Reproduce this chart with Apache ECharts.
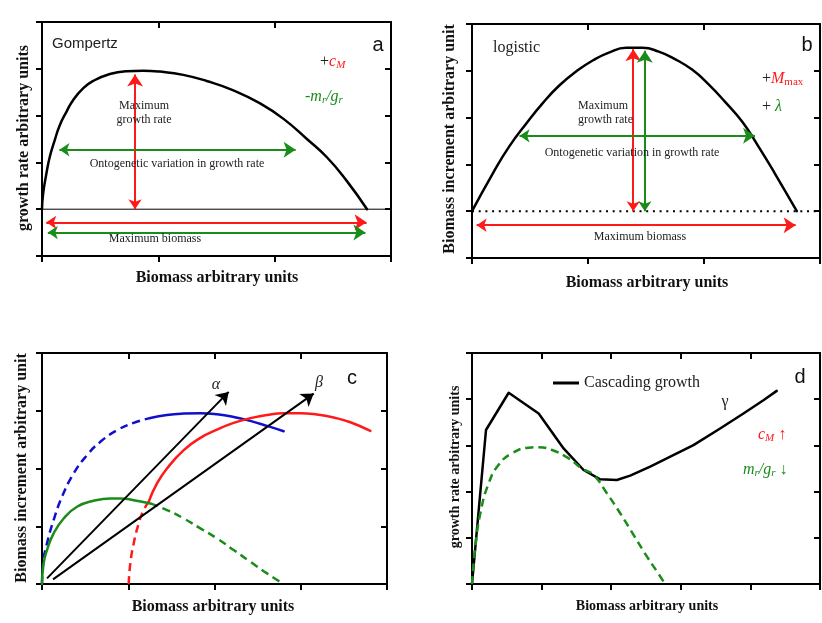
<!DOCTYPE html>
<html><head><meta charset="utf-8">
<script src="https://cdn.jsdelivr.net/npm/echarts@6/dist/echarts.min.js"></script>
<style>html,body{margin:0;padding:0;background:#fff}#c{width:822px;height:623px}</style>
</head><body><div id="c"></div><script>
// ---------- DATA ----------
// Panel a: Gompertz growth-rate curve [biomass, growth rate]
const gompertzCurve = [[0,0],[0.009,0.32],[0.037,0.75],[0.066,1.11],[0.109,1.47],[0.152,1.79],[0.21,2.08],[0.267,2.33],[0.353,2.58],[0.44,2.74],[0.583,2.89],[0.727,2.95],[0.87,2.96],[1.013,2.94],[1.214,2.87],[1.415,2.74],[1.645,2.54],[1.875,2.26],[2.076,1.93],[2.277,1.50],[2.449,1.11],[2.621,0.60],[2.794,0]];
const baselineA = [[0,0],[3,0]];
const arrowsA = [[[0.80,0],[0.80,2.88]],[[0.15,1.27],[2.18,1.27]],[[0.037,-0.28],[2.79,-0.28]],[[0.05,-0.50],[2.78,-0.50]]];
// Panel b: logistic increment curve
const logisticCurve = [[0,0],[0.18,0.81],[0.32,1.38],[0.47,1.88],[0.61,2.31],[0.75,2.68],[0.90,2.99],[1.04,3.22],[1.18,3.39],[1.33,3.49],[1.47,3.49],[1.61,3.41],[1.75,3.25],[1.90,3.02],[2.04,2.71],[2.18,2.34],[2.33,1.91],[2.47,1.38],[2.61,0.81],[2.80,0]];
const baselineB = [[0,0],[3,0]];
const arrowsB = [[[1.39,0],[1.39,3.46]],[[1.49,0],[1.49,3.43]],[[0.41,1.61],[2.44,1.61]],[[0.04,-0.30],[2.79,-0.30]]];
// Panel c: three increment curves, dashed/solid parts
const blueDashed = [[0,0],[0.012,0.357],[0.058,0.703],[0.135,1.107],[0.232,1.51],[0.367,1.914],[0.522,2.231],[0.676,2.461],[0.87,2.663],[1.063,2.79],[1.256,2.876]];
const blueSolid = [[1.256,2.876],[1.449,2.928],[1.643,2.951],[1.836,2.957],[2.029,2.939],[2.222,2.893],[2.415,2.824],[2.609,2.738],[2.802,2.646]];
const redDashed = [[1.005,0],[1.024,0.357],[1.063,0.703],[1.121,1.049],[1.179,1.28],[1.237,1.424]];
const redSolid = [[1.237,1.424],[1.333,1.741],[1.449,2.0],[1.643,2.317],[1.836,2.53],[2.029,2.674],[2.222,2.79],[2.415,2.87],[2.609,2.928],[2.802,2.957],[2.995,2.957],[3.188,2.934],[3.382,2.882],[3.575,2.801],[3.807,2.651]];
const greenSolid = [[0,0],[0.019,0.357],[0.058,0.588],[0.135,0.876],[0.251,1.135],[0.406,1.337],[0.599,1.441],[0.792,1.481],[0.908,1.481],[1.063,1.452],[1.256,1.395]];
const greenDashed = [[1.256,1.395],[1.449,1.28],[1.643,1.135],[1.836,0.963],[2.029,0.79],[2.222,0.588],[2.415,0.386],[2.609,0.184],[2.802,0]];
const arrowsC = [[[0.058,0.098],[2.164,3.326]],[[0.128,0.081],[3.15,3.297]]];
// Panel d: cascading growth polyline and dashed curve
const cascading = [[0,0],[0.201,3.333],[0.527,4.14],[0.958,3.69],[1.316,2.935],[1.603,2.468],[1.842,2.266],[2.081,2.252],[2.273,2.345],[2.56,2.54],[2.943,2.827],[3.182,3.007],[3.565,3.367],[3.9,3.691],[4.187,3.978],[4.378,4.18]];
const dashedD = [[0,0],[0.048,0.81],[0.12,1.53],[0.24,2.18],[0.383,2.58],[0.575,2.83],[0.814,2.95],[0.958,2.96],[1.149,2.9],[1.389,2.72],[1.58,2.5],[1.746,2.36],[1.938,1.964],[2.129,1.532],[2.321,1.065],[2.512,0.597],[2.656,0.273],[2.775,0]];

// ---------- STYLE / LAYOUT ----------
const RED = '#ff1a1a', GREEN = '#1a8c1a', BLUE = '#1010cc', INK = '#222';
const SERIF = '"Liberation Serif", "DejaVu Serif", serif';
const SANS = '"Liberation Sans", Arial, sans-serif';
const DASH = [8,5], DOTS = [2,4.7];
const arrowColorsA = [RED, GREEN, RED, GREEN];
const arrowColorsB = [RED, GREEN, GREEN, RED];
const grids = [
  {left:42, top:22, width:349, height:234},
  {left:472, top:24, width:348, height:234},
  {left:42, top:353, width:345, height:231},
  {left:472, top:353, width:348, height:231}
];
const ranges = [
  {x:[0,3,1], y:[-1,4,1]},
  {x:[0,3,1], y:[-1,4,1]},
  {x:[0,4,1], y:[0,4,1]},
  {x:[0,5,1], y:[0,5,1]}
];
const xAxes = [], yAxes = [];
ranges.forEach((r,i)=>{
  const base = (inside)=>({
    gridIndex:i, axisLabel:{show:false}, splitLine:{show:false},
    axisLine:{show:true, onZero:false, lineStyle:{color:'#000', width:2}},
    axisTick:{show:true, inside:inside, length:6, lineStyle:{color:'#000', width:2}}
  });
  xAxes.push(Object.assign(base(false), {type:'value', position:'bottom', min:r.x[0], max:r.x[1], interval:r.x[2]}));
  xAxes.push(Object.assign(base(true), {type:'value', position:'top', min:r.x[0], max:r.x[1], interval:r.x[2]}));
  yAxes.push(Object.assign(base(false), {type:'value', position:'left', min:r.y[0], max:r.y[1], interval:r.y[2]}));
  yAxes.push(Object.assign(base(true), {type:'value', position:'right', min:r.y[0], max:r.y[1], interval:r.y[2]}));
});
function curve(p, data, color, width, type, smooth, name){
  const solid = type === 'solid';
  return {type:'line', name:name, xAxisIndex:2*p, yAxisIndex:2*p, data:data, showSymbol:false, symbol:'none',
    smooth:smooth, silent:true, z:3, itemStyle:{color:color},
    lineStyle:{color:color, width:width, type:type, cap:solid?'round':'butt', join:'round'}};
}
function arrows(p, list, colors, symbols, width){
  return {type:'lines', coordinateSystem:'cartesian2d', xAxisIndex:2*p, yAxisIndex:2*p, silent:true, z:4,
    symbol:symbols, symbolSize:[10,12],
    data:list.map((c,i)=>({coords:c, lineStyle:{color:colors[i], width:width, opacity:1}}))};
}
const series = [
  curve(0, gompertzCurve, '#000', 2.5, 'solid', 0.5),
  curve(0, baselineA, '#000', 1, 'solid', false),
  arrows(0, arrowsA, arrowColorsA, ['arrow','arrow'], 2),
  curve(1, logisticCurve, '#000', 2.5, 'solid', 0.5),
  curve(1, baselineB, '#000', 2, DOTS, false),
  arrows(1, arrowsB, arrowColorsB, ['arrow','arrow'], 2),
  curve(2, blueDashed, BLUE, 2.5, DASH, 0.5),
  curve(2, blueSolid, BLUE, 2.5, 'solid', 0.5),
  curve(2, redDashed, RED, 2.5, DASH, 0.5),
  curve(2, redSolid, RED, 2.5, 'solid', 0.5),
  curve(2, greenSolid, GREEN, 2.5, 'solid', 0.5),
  curve(2, greenDashed, GREEN, 2.5, DASH, 0.5),
  arrows(2, arrowsC, ['#000','#000'], ['none','arrow'], 2),
  curve(3, cascading, '#000', 2.5, 'solid', false, 'Cascading growth'),
  curve(3, dashedD, GREEN, 2.5, DASH, 0.5)
];

function T(x, y, text, font, opt){
  opt = opt || {};
  return {type:'text', x:x, y:y, rotation:opt.rot||0, z:10, silent:true,
    style:Object.assign({text:text, font:font, fill:opt.fill||INK, align:opt.align||'center', verticalAlign:'middle', lineHeight:opt.lh}, opt.style||{})};
}
const titleFont = 'bold 16px ' + SERIF;
const noteFont = '12px ' + SERIF;
const symFont = 'italic 16px ' + SERIF;
const rich = {
  k:{fill:INK, color:INK, font:'16px '+SERIF},
  r:{fill:RED, color:RED, font:'italic 16px '+SERIF},
  rs:{fill:RED, color:RED, font:'italic 11px '+SERIF, padding:[7,0,0,0]},
  rn:{fill:RED, color:RED, font:'11px '+SERIF, padding:[7,0,0,0]},
  g:{fill:GREEN, color:GREEN, font:'italic 16px '+SERIF},
  gs:{fill:GREEN, color:GREEN, font:'italic 11px '+SERIF, padding:[7,0,0,0]},
  ga:{fill:GREEN, color:GREEN, font:'16px '+SERIF},
  ra:{fill:RED, color:RED, font:'16px '+SERIF}
};
const R = (x,y,t)=>({type:'text', x:x, y:y, z:10, silent:true, style:{text:t, rich:rich, align:'left', verticalAlign:'middle', font:'16px '+SERIF}});
const graphics = [
  // panel a
  T(24, 138, 'growth rate arbitrary units', titleFont, {rot:Math.PI/2, fill:'#111'}),
  T(217, 278, 'Biomass arbitrary units', titleFont, {fill:'#111'}),
  T(52, 44, 'Gompertz', '15px '+SANS, {align:'left'}),
  T(378, 45, 'a', '20px '+SANS, {fill:'#111'}),
  R(320, 62, '{k|+}{r|c}{rs|M}'),
  R(305, 97, '{g|-m}{gs|r}{g|/g}{gs|r}'),
  T(144, 113, 'Maximum\ngrowth rate', noteFont, {lh:14}),
  T(177, 164, 'Ontogenetic variation in growth rate', noteFont),
  T(155, 239, 'Maximum biomass', noteFont),
  // panel b
  T(450, 139, 'Biomass increment arbitrary unit', titleFont, {rot:Math.PI/2, fill:'#111'}),
  T(647, 283, 'Biomass arbitrary units', titleFont, {fill:'#111'}),
  T(493, 48, 'logistic', '16px '+SERIF, {align:'left'}),
  T(807, 45, 'b', '20px '+SANS, {fill:'#111'}),
  R(762, 79, '{k|+}{r|M}{rn|max}'),
  R(762, 107, '{k|+ }{g|λ}'),
  T(578, 113, 'Maximum\ngrowth rate', noteFont, {lh:14, align:'left'}),
  T(632, 153, 'Ontogenetic variation in growth rate', noteFont),
  T(640, 237, 'Maximum biomass', noteFont),
  // panel c
  T(22, 468, 'Biomass increment arbitrary unit', titleFont, {rot:Math.PI/2, fill:'#111'}),
  T(213, 607, 'Biomass arbitrary units', titleFont, {fill:'#111'}),
  T(216, 385, 'α', symFont),
  T(319, 383, 'β', symFont),
  T(352, 378, 'c', '20px '+SANS, {fill:'#111'}),
  // panel d
  T(455, 467, 'growth rate arbitrary units', 'bold 14px '+SERIF, {rot:Math.PI/2, fill:'#111'}),
  T(647, 606, 'Biomass arbitrary units', 'bold 14px '+SERIF, {fill:'#111'}),
  T(725, 402, 'γ', '16px '+SERIF),
  T(800, 377, 'd', '20px '+SANS, {fill:'#111'}),
  R(758, 435, '{r|c}{rs|M}{ra| ↑}'),
  R(743, 470, '{g|m}{gs|r}{g|/g}{gs|r}{ga| ↓}')
];

const chart = echarts.init(document.getElementById('c'), null, {renderer:'canvas'});
chart.setOption({
  animation:false,
  backgroundColor:'#fff',
  grid:grids,
  xAxis:xAxes,
  yAxis:yAxes,
  legend:{data:['Cascading growth'], left:548, top:370, itemWidth:26, itemHeight:3, icon:'rect', itemGap:8,
    textStyle:{fontFamily:SERIF, fontSize:16, color:INK}, selectedMode:false},
  series:series,
  graphic:graphics
});
</script></body></html>
